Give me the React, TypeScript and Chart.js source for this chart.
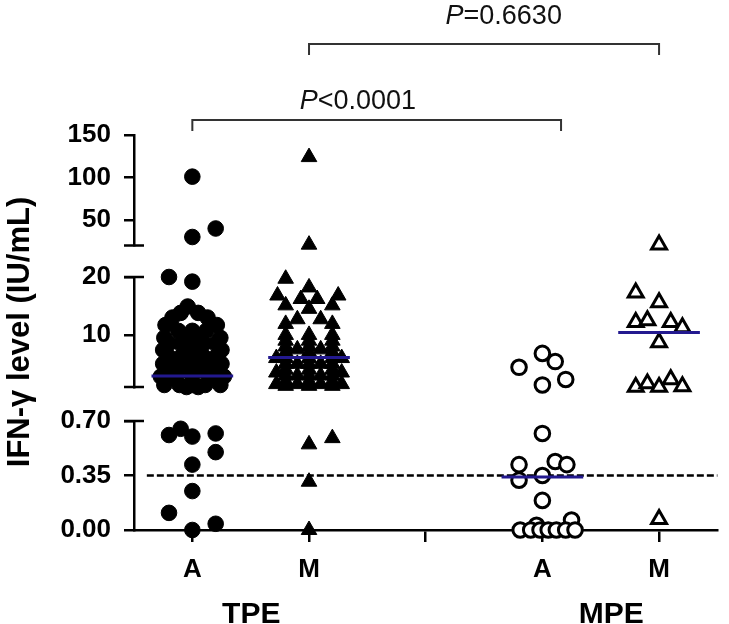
import React, { useEffect, useRef } from 'react';
import { Chart, registerables } from 'chart.js';

Chart.register(...registerables);
Chart.defaults.font.family = '"Liberation Sans", Arial, Helvetica, sans-serif';

// ---------------- data ----------------
const xLabels = ['A', 'M', '', 'A', 'M'];
const groupNames = ['TPE', 'MPE'];
const groupCenters = [0, 1, 3, 4]; // TPE-A, TPE-M, MPE-A, MPE-M

// IFN-γ level (IU/mL) and the horizontal scatter offset of each point
const tpeAValues = [
  101, 30, 40,
  20, 19.2,
  14.9,
  13.8, 13.8,
  13.0, 13.0,
  11.7, 11.7,
  10.7, 10.7, 10.7,
  9.5, 9.5, 9.5, 9.5,
  8.5, 8.5, 8.5, 8.5, 8.5,
  7.4, 7.4, 7.4, 7.4,
  6.2, 6.2, 6.2, 6.2, 6.2,
  5.0, 5.0, 5.0, 5.0, 5.0, 5.0,
  3.8, 3.8, 3.8, 3.8, 3.8,
  2.8, 2.8, 2.8, 2.8, 2.8,
  1.35, 1.35, 1.35, 1.35, 1.35,
  1.0, 1.0,
  0.61, 0.65, 0.6, 0.62, 0.5, 0.42, 0.25, 0.11, 0, 0.04,
];
const tpeAJitter = [
  0, 0, 0.2,
  -0.2, 0,
  -0.04,
  -0.1, 0.05,
  -0.17, 0.13,
  -0.23, 0.21,
  -0.12, 0, 0.12,
  -0.24, -0.06, 0.06, 0.24,
  -0.2, -0.1, 0, 0.1, 0.2,
  -0.25, -0.05, 0.05, 0.25,
  -0.2, -0.1, 0, 0.1, 0.2,
  -0.25, -0.15, -0.05, 0.05, 0.15, 0.25,
  -0.2, -0.1, 0, 0.1, 0.2,
  -0.27, -0.15, 0, 0.15, 0.27,
  -0.24, -0.11, 0, 0.11, 0.24,
  -0.05, 0.05,
  -0.2, -0.1, 0, 0.2, 0.2, 0, 0, -0.2, 0, 0.2,
];

const tpeMValues = [
  124, 21,
  19.7, 18.2, 16.8, 16.8, 16.2, 16.2, 15.1, 15.1, 14.5, 12.7, 12.7, 11.9, 11.9,
  10, 9, 8, 7, 6, 5, 4, 3, 2, 1.2,
  10, 9, 8, 7, 6, 5, 4, 3, 2, 1.2,
  10, 9, 8, 7, 6, 5, 4, 3, 2, 1.2,
  7.5, 5, 3, 1.5,
  7.5, 5, 3, 1.5,
  6, 3.5, 1.5,
  6, 3.5, 1.5,
  0.55, 0.59, 0.31, 0,
];
const tpeMJitter = [
  0, 0,
  -0.2, 0, -0.27, 0.25, -0.07, 0.07, -0.2, 0.2, 0, -0.1, 0.1, -0.2, 0.2,
  -0.2, -0.2, -0.2, -0.2, -0.2, -0.2, -0.2, -0.2, -0.2, -0.2,
  0, 0, 0, 0, 0, 0, 0, 0, 0, 0,
  0.2, 0.2, 0.2, 0.2, 0.2, 0.2, 0.2, 0.2, 0.2, 0.2,
  -0.1, -0.1, -0.1, -0.1,
  0.1, 0.1, 0.1, 0.1,
  -0.28, -0.28, -0.28,
  0.28, 0.28, 0.28,
  0, 0.2, 0, 0,
];

const mpeAValues = [
  6.8, 5.4, 4.4, 2.3, 1.35,
  0.62, 0.42, 0.44, 0.42, 0.35, 0.32, 0.19, 0.064, 0.03,
  0, 0, 0, 0, 0, 0, 0,
];
const mpeAJitter = [
  0, 0.11, -0.2, 0.2, 0,
  0, -0.2, 0.11, 0.21, 0, -0.2, 0, 0.25, -0.05,
  -0.19, -0.1, -0.02, 0.05, 0.12, 0.2, 0.28,
];

const mpeMValues = [
  21,
  17.3, 15.6, 12.2, 12.5, 12.2, 11.3, 8.7,
  1.0, 1.6, 1.0, 2.3, 1.1,
  0.07,
];
const mpeMJitter = [
  0,
  -0.2, 0, -0.2, -0.1, 0.1, 0.2, 0,
  -0.2, -0.1, 0, 0.1, 0.2,
  0,
];

const medians = [2.9, 6.1, 0.34, 10.4];
const cutoffValue = 0.35;
const pValues = ['<0.0001', '=0.6630'];

// ---------------- helpers ----------------
type SegId = 'yTop' | 'yMid' | 'yLow';
const segOf = (v: number): SegId => (v <= 0.7 ? 'yLow' : v <= 20 ? 'yMid' : 'yTop');

const filledCircle = {
  pointStyle: 'circle', pointRadius: 7.8, backgroundColor: '#000', borderColor: '#000',
  pointBackgroundColor: '#000', pointBorderColor: '#000', borderWidth: 1, pointBorderWidth: 1,
};
const filledTriangle = {
  pointStyle: 'triangle', pointRadius: 9, backgroundColor: '#000', borderColor: '#000',
  pointBackgroundColor: '#000', pointBorderColor: '#000', borderWidth: 1, pointBorderWidth: 1,
};
const openCircle = {
  pointStyle: 'circle', pointRadius: 7.3, backgroundColor: '#fff', borderColor: '#000',
  pointBackgroundColor: '#fff', pointBorderColor: '#000', borderWidth: 3, pointBorderWidth: 3,
};
const openTriangle = {
  pointStyle: 'triangle', pointRadius: 8.6, backgroundColor: '#fff', borderColor: '#000',
  pointBackgroundColor: '#fff', pointBorderColor: '#000', borderWidth: 3, pointBorderWidth: 3,
};

function pointSets(values: number[], jitter: number[], center: number, style: any) {
  const segs: SegId[] = ['yTop', 'yMid', 'yLow'];
  return segs.map((seg) => ({
    type: 'scatter',
    xAxisID: 'x',
    yAxisID: seg,
    data: values
      .map((v, i) => ({ x: center + jitter[i], y: v }))
      .filter((p) => segOf(p.y) === seg),
    showLine: false,
    clip: false,
    order: 1,
    ...style,
  }));
}

function medianSets() {
  return medians.map((m, i) => ({
    type: 'line',
    xAxisID: 'x',
    yAxisID: segOf(m),
    data: [
      { x: groupCenters[i] - 0.35, y: m },
      { x: groupCenters[i] + 0.35, y: m },
    ],
    borderColor: '#23198f',
    borderWidth: 3,
    pointRadius: 0,
    clip: false,
    order: 0,
  }));
}

const yTickFont = { size: 26, weight: 'bold' as const };

function segAxis(min: number, max: number, tickVals: number[], h: number, w: number, fmt: (v: number) => string, extra: any = {}) {
  return {
    type: 'linear',
    position: 'left',
    stack: 'ybreak',
    stackWeight: h,
    weight: w,
    min,
    max,
    afterBuildTicks: (s: any) => {
      s.ticks = tickVals.map((v) => ({ value: v }));
    },
    afterFit: (s: any) => {
      s.width = 134;
    },
    border: { display: true, color: '#000', width: 2.5 },
    grid: { display: true, drawOnChartArea: false, drawTicks: true, tickLength: 10, color: '#000', lineWidth: 2.5 },
    ticks: { color: '#000', font: yTickFont, padding: 13, autoSkip: false, callback: (v: any) => fmt(Number(v)) },
    ...extra,
  };
}

const gapAxis = (h: number, w: number) => ({
  type: 'linear', position: 'left', stack: 'ybreak', stackWeight: h, weight: w, display: false, min: 0, max: 1,
});

const annotPlugin = {
  id: 'annot',
  afterDraw(chart: any) {
    const { ctx } = chart;
    const x = chart.scales.x;
    const yT = chart.scales.yTop, yM = chart.scales.yMid, yL = chart.scales.yLow;
    const ax = yM.right;
    ctx.save();
    // break caps
    ctx.strokeStyle = '#000';
    ctx.lineWidth = 2.5;
    [yT.bottom, yM.top, yM.bottom, yL.top].forEach((py: number) => {
      ctx.beginPath();
      ctx.moveTo(ax - 10, py);
      ctx.lineTo(ax + 10, py);
      ctx.stroke();
    });

    // comparison brackets
    ctx.strokeStyle = '#333';
    ctx.lineWidth = 2;
    const brackets = [
      { x0: 0, x1: 3.16, y: 120, leg: 11, tx: 0.92, ty: 109, p: pValues[0] },
      { x0: 1, x1: 4, y: 44, leg: 11, tx: 2.17, ty: 24, p: pValues[1] },
    ];
    brackets.forEach((b) => {
      const p0 = x.getPixelForValue(b.x0);
      const p1 = x.getPixelForValue(b.x1);
      ctx.beginPath();
      ctx.moveTo(p0, b.y + b.leg);
      ctx.lineTo(p0, b.y);
      ctx.lineTo(p1, b.y);
      ctx.lineTo(p1, b.y + b.leg);
      ctx.stroke();
      const fam = '"Liberation Sans", Arial, sans-serif';
      let tx = x.getPixelForValue(b.tx);
      ctx.fillStyle = '#111';
      ctx.textBaseline = 'alphabetic';
      ctx.textAlign = 'left';
      ctx.font = `italic 27px ${fam}`;
      ctx.fillText('P', tx, b.ty);
      tx += ctx.measureText('P').width;
      ctx.font = `27px ${fam}`;
      ctx.fillText(b.p, tx, b.ty);
    });

    // group labels
    ctx.fillStyle = '#000';
    ctx.textAlign = 'center';
    ctx.textBaseline = 'alphabetic';
    ctx.font = 'bold 30px "Liberation Sans", Arial, sans-serif';
    const groupPos = [0.505, 3.59];
    groupNames.forEach((g, i) => {
      ctx.fillText(g, x.getPixelForValue(groupPos[i]), 623);
    });
    ctx.restore();
  },
};

export default function App() {
  const ref = useRef<HTMLCanvasElement>(null);
  useEffect(() => {
    document.body.style.margin = '0';
    const datasets: any[] = [
      ...medianSets(),
      ...pointSets(tpeAValues, tpeAJitter, groupCenters[0], filledCircle),
      ...pointSets(tpeMValues, tpeMJitter, groupCenters[1], filledTriangle),
      ...pointSets(mpeAValues, mpeAJitter, groupCenters[2], openCircle),
      ...pointSets(mpeMValues, mpeMJitter, groupCenters[3], openTriangle),
      {
        type: 'line',
        xAxisID: 'x',
        yAxisID: 'yLow',
        data: [
          { x: -0.39, y: cutoffValue },
          { x: 4.5, y: cutoffValue },
        ],
        borderColor: '#000',
        borderWidth: 2.5,
        borderDash: [7, 3],
        pointRadius: 0,
        clip: false,
        order: 2,
      },
    ];
    const chart = new Chart(ref.current as HTMLCanvasElement, {
      type: 'scatter',
      data: { datasets },
      options: {
        animation: false,
        responsive: false,
        devicePixelRatio: 1,
        events: [],
        layout: { padding: { top: 135, right: 3, bottom: 0, left: 0 } },
        plugins: { legend: { display: false }, tooltip: { enabled: false }, title: { display: false } },
        scales: {
          x: {
            type: 'linear',
            position: 'bottom',
            min: -0.5,
            max: 4.5,
            afterBuildTicks: (s: any) => {
              s.ticks = xLabels.map((_, i) => ({ value: i }));
            },
            afterFit: (s: any) => {
              s.height = 94;
            },
            border: { display: true, color: '#000', width: 2.5 },
            grid: { drawOnChartArea: false, drawTicks: true, tickLength: 12, color: '#000', lineWidth: 2.5 },
            ticks: {
              color: '#000',
              font: { size: 26, weight: 'bold' },
              padding: 12,
              maxRotation: 0,
              autoSkip: false,
              callback: (_v: any, i: number) => xLabels[i],
            },
          },
          yTop: segAxis(20, 150, [50, 100, 150], 110.5, 5, (v) => String(v)),
          gap1: gapAxis(31.5, 4),
          yMid: segAxis(1, 20, [10, 20], 110, 3, (v) => String(v), {
            title: {
              display: true,
              text: 'IFN-γ level (IU/mL)',
              color: '#000',
              font: { size: 31, weight: 'bold' },
              padding: { top: 2, bottom: 0 },
            },
          }),
          gap2: gapAxis(34, 2),
          yLow: segAxis(0, 0.7, [0, 0.35, 0.7], 109, 1, (v) => v.toFixed(2)),
        } as any,
      },
      plugins: [annotPlugin],
    } as any);
    return () => chart.destroy();
  }, []);
  return (
    <div style={{ width: 729, height: 624, background: '#fff' }}>
      <canvas ref={ref} width={729} height={624} style={{ display: 'block' }} />
    </div>
  );
}
